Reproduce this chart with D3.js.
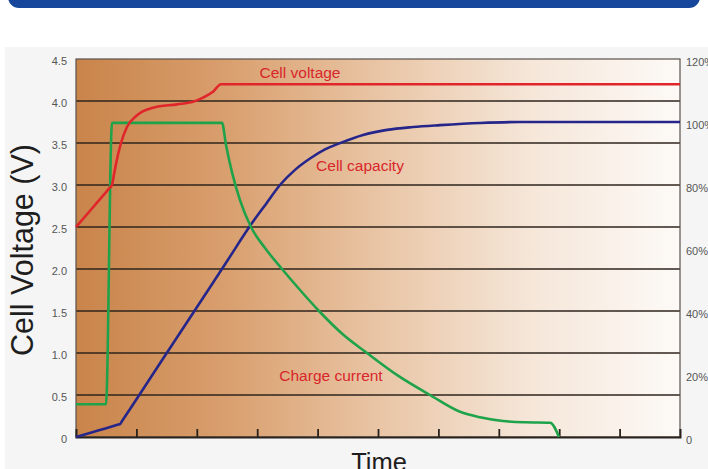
<!DOCTYPE html>
<html>
<head>
<meta charset="utf-8">
<script src="https://cdn.jsdelivr.net/npm/d3@7"></script>
<style>
  html, body { margin: 0; padding: 0; background: #ffffff; }
  svg { display: block; font-family: "Liberation Sans", Arial, Helvetica, sans-serif; }
</style>
</head>
<body>
<svg id="chart" width="708" height="469"></svg>
<script>
// ---- data ----
const voltageTicks = [0, 0.5, 1.0, 1.5, 2.0, 2.5, 3.0, 3.5, 4.0, 4.5];
const capacityTicks = [0, 20, 40, 60, 80, 100, 120];
const timeTicks = [1, 2, 3, 4, 5, 6, 7, 8, 9];

// Cell voltage (V) over time
const voltageTime  = [0, 0.30, 0.55, 0.596, 0.62, 0.662, 0.745, 0.844, 1.01, 1.275, 1.672, 1.937, 2.103, 2.268, 2.40, 10];
const voltageValue = [2.5, 2.75, 2.96, 3.0, 3.09, 3.25, 3.5, 3.69, 3.83, 3.92, 3.96, 3.99, 4.04, 4.11, 4.2, 4.2];

// Charge current (drawn on the voltage scale)
const currentTime  = [0, 0.497, 0.596, 2.417, 2.483, 2.583, 2.715, 2.897, 3.129, 3.411, 3.709, 4.023, 4.421, 4.818, 5.331, 5.861, 6.358, 6.689, 7.07, 7.434, 7.848, 7.997];
const currentValue = [0.39, 0.39, 3.74, 3.74, 3.48, 3.15, 2.82, 2.50, 2.25, 2.00, 1.75, 1.50, 1.22, 1.00, 0.73, 0.50, 0.30, 0.235, 0.19, 0.175, 0.17, 0.0];

// Cell capacity (%)
const capacityTime  = [0, 0.364, 0.70, 0.728, 0.76, 1.391, 2.053, 2.5, 2.914, 3.146, 3.377, 3.626, 3.874, 4.122, 4.371, 4.752, 5.149, 5.579, 6.026, 6.689, 7.351, 10];
const capacityValue = [0, 2.05, 3.94, 4.1, 5.0, 23.4, 42.7, 55.8, 67.9, 74.0, 80.0, 84.8, 88.4, 91.3, 93.3, 95.9, 97.5, 98.4, 99.0, 99.7, 100, 100];

// ---- layout ----
const W = 708, H = 469;
const plot = { left: 76, right: 680, top: 59, bottom: 437 };

const svg = d3.select("#chart");

// page pieces
svg.append("rect").attr("x", 5).attr("y", 47).attr("width", W - 5).attr("height", H - 47).attr("fill", "#f5f5f5");
svg.append("rect").attr("x", 8).attr("y", -20).attr("width", 692).attr("height", 28).attr("rx", 11).attr("fill", "#17479d");

const x = d3.scaleLinear().domain([0, 10]).range([plot.left, plot.right]);
const yV = d3.scaleLinear().domain([0, 4.5]).range([plot.bottom, plot.top]);
const yP = d3.scaleLinear().domain([0, 120]).range([plot.bottom, plot.top]);

// background gradient
const defs = svg.append("defs");
const grad = defs.append("linearGradient").attr("id", "bg").attr("x1", "0").attr("x2", "1").attr("y1", "0").attr("y2", "0");
[[0, "#c9844a"], [0.25, "#d99f6e"], [0.5, "#e9c5a5"], [0.75, "#f5e6d8"], [1, "#fdfaf7"]]
  .forEach(([o, c]) => grad.append("stop").attr("offset", o).attr("stop-color", c));

svg.append("rect")
  .attr("x", plot.left).attr("y", plot.top)
  .attr("width", plot.right - plot.left).attr("height", plot.bottom - plot.top)
  .attr("fill", "url(#bg)");

// grid lines
svg.append("g").selectAll("line")
  .data(voltageTicks.filter(v => v > 0 && v < 4.5))
  .join("line")
  .attr("x1", plot.left).attr("x2", plot.right)
  .attr("y1", d => yV(d)).attr("y2", d => yV(d))
  .attr("stroke", "#2e241c").attr("stroke-width", 1.6);

// frame
svg.append("rect")
  .attr("x", plot.left).attr("y", plot.top)
  .attr("width", plot.right - plot.left).attr("height", plot.bottom - plot.top)
  .attr("fill", "none").attr("stroke", "#5a524c").attr("stroke-width", 1.2);

// bottom axis with upward ticks
const xAxis = d3.axisBottom(x).tickValues(timeTicks).tickSize(-8).tickFormat("");
const gx = svg.append("g").attr("transform", `translate(0,${plot.bottom})`).call(xAxis);
gx.select(".domain").attr("stroke", "#2a221c").attr("stroke-width", 2);
gx.selectAll(".tick line").attr("stroke", "#2a221c").attr("stroke-width", 1.8);

// left axis labels
const yAxisL = d3.axisLeft(yV).tickValues(voltageTicks).tickSize(0).tickPadding(9)
  .tickFormat(d => d === 0 ? "0" : d3.format(".1f")(d));
const gl = svg.append("g").attr("transform", `translate(${plot.left},0)`).call(yAxisL);
gl.select(".domain").remove();
gl.selectAll("text").attr("fill", "#555").attr("font-size", 11).attr("dy", "0.5em")
  .attr("font-family", "'Liberation Sans', Arial, sans-serif");

// right axis labels
const yAxisR = d3.axisRight(yP).tickValues(capacityTicks).tickSize(0).tickPadding(6)
  .tickFormat(d => d === 0 ? "0" : d + "%");
const gr = svg.append("g").attr("transform", `translate(${plot.right},0)`).call(yAxisR);
gr.select(".domain").remove();
gr.selectAll("text").attr("fill", "#555").attr("font-size", 11).attr("dy", "0.6em")
  .attr("font-family", "'Liberation Sans', Arial, sans-serif");

// lines
const toPts = (ts, vs) => ts.map((t, i) => [t, vs[i]]);
const lineV = d3.line().x(d => x(d[0])).y(d => yV(d[1])).curve(d3.curveMonotoneX);
const lineP = d3.line().x(d => x(d[0])).y(d => yP(d[1])).curve(d3.curveMonotoneX);

svg.append("path").datum(toPts(capacityTime, capacityValue))
  .attr("d", lineP).attr("fill", "none").attr("stroke", "#26268a").attr("stroke-width", 2.6);
svg.append("path").datum(toPts(currentTime, currentValue))
  .attr("d", lineV).attr("fill", "none").attr("stroke", "#1fa34a").attr("stroke-width", 2.6);
svg.append("path").datum(toPts(voltageTime, voltageValue))
  .attr("d", lineV).attr("fill", "none").attr("stroke", "#e0262b").attr("stroke-width", 2.6);

// series labels
const labelStyle = s => s.attr("fill", "#d8262b").attr("font-size", 15.5).attr("text-anchor", "middle")
  .attr("font-family", "'Liberation Sans', Arial, sans-serif");
svg.append("text").attr("x", 300).attr("y", 78).text("Cell voltage").call(labelStyle);
svg.append("text").attr("x", 360).attr("y", 171).text("Cell capacity").call(labelStyle);
svg.append("text").attr("x", 331).attr("y", 381).text("Charge current").call(labelStyle);

// axis titles
svg.append("text")
  .attr("transform", "translate(33,250) rotate(-90)")
  .attr("text-anchor", "middle").attr("font-size", 30.5).attr("fill", "#1e1e1e")
  .text("Cell Voltage (V)");
svg.append("text")
  .attr("x", 379).attr("y", 471)
  .attr("text-anchor", "middle").attr("font-size", 25.5).attr("fill", "#1e1e1e")
  .text("Time");
</script>
</body>
</html>
